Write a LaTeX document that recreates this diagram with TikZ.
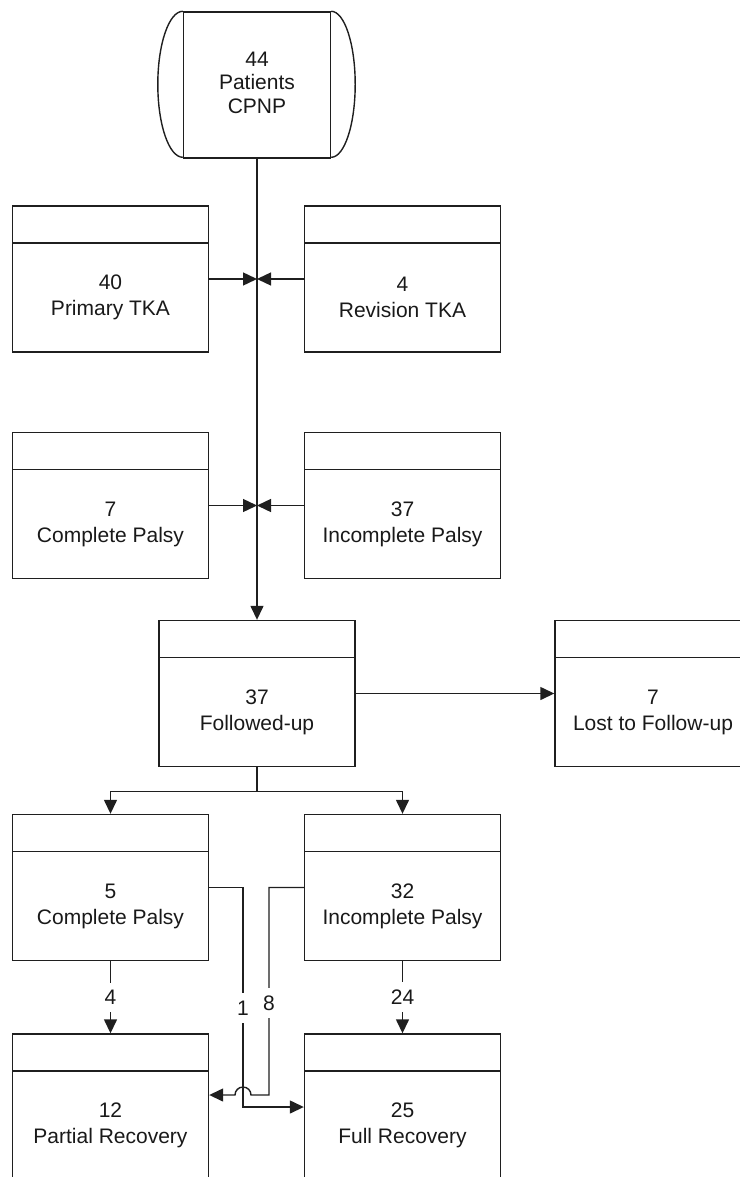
\documentclass[tikz,border=0pt]{standalone}
\usepackage{fontspec}
\setmainfont{Liberation Sans}
\usetikzlibrary{arrows.meta,calc}
\begin{document}
\begin{tikzpicture}[x=1pt,y=-1pt,
  line width=1.4pt, draw=black!88,
  fbox/.style={draw, rectangle, minimum width=196pt, minimum height=146pt, inner sep=0pt,
     path picture={\draw[line width=1.4pt] ($(path picture bounding box.north west)+(0,-37pt)$) -- ++(200pt,0);}},
  boxtext/.style={align=center, inner sep=0pt, text=black!90, font=\fontsize{21}{26}\selectfont},
  arr/.style={-{Triangle[length=14pt,width=13pt]}},
  lab/.style={fill=white, inner xsep=2pt, inner ysep=7.5pt, text=black!90, font=\fontsize{21}{26}\selectfont}
]
\useasboundingbox (0,0) rectangle (739,1177);

% top terminal shape
\node[draw, minimum width=147pt, minimum height=146pt, inner sep=0pt, align=center,
      text=black!90, font=\fontsize{21}{23.5}\selectfont] (top) at (257,85) {};
\node[align=center, inner sep=0pt, text=black!90, font=\fontsize{21}{23.5}\selectfont]
      (ttop) at ($(top)+(0,2.5pt)$) {44\\Patients\\CPNP};
\draw (top.north west) arc[start angle=90, end angle=270, x radius=25pt, y radius=73pt];
\draw (top.north east) arc[start angle=90, end angle=-90, x radius=24pt, y radius=73pt];

% boxes
\node[fbox] (ptka) at (110.5,279) {};
\node[fbox] (rtka) at (402.5,279) {};
\node[fbox] (cp7)  at (110.5,505.5) {};
\node[fbox] (ip37) at (402.5,505.5) {};
\node[fbox] (fu)   at (257,693.5) {};
\node[fbox] (lost) at (653,693.5) {};
\node[fbox] (cp5)  at (110.5,887.5) {};
\node[fbox] (ip32) at (402.5,887.5) {};
\node[fbox] (pr)   at (110.5,1107) {};
\node[fbox] (fr)   at (402.5,1107) {};

% texts
\node[boxtext] (tptka) at ($(ptka)+(0,-18.5pt)$) {40\\Primary TKA};
\node[boxtext] (trtka) at ($(rtka)+(0,-18.5pt)$) {4\\Revision TKA};
\node[boxtext] (tcp7)  at ($(cp7)+(0,-18.5pt)$) {7\\Complete Palsy};
\node[boxtext] (tip37) at ($(ip37)+(0,-18.5pt)$) {37\\Incomplete Palsy};
\node[boxtext] (tfu)   at ($(fu)+(0,-18.5pt)$) {37\\Followed-up};
\node[boxtext] (tlost) at ($(lost)+(0,-18.5pt)$) {7\\Lost to Follow-up};
\node[boxtext] (tcp5)  at ($(cp5)+(0,-18.5pt)$) {5\\Complete Palsy};
\node[boxtext] (tip32) at ($(ip32)+(0,-18.5pt)$) {32\\Incomplete Palsy};
\node[boxtext] (tpr)   at ($(pr)+(0,-18.5pt)$) {12\\Partial Recovery};
\node[boxtext] (tfr)   at ($(fr)+(0,-18.5pt)$) {25\\Full Recovery};

% main trunk
\draw[arr] (top.south) -- (fu.north);
\draw[arr] (ptka.east) -- (ptka.east -| fu.north);
\draw[arr] (rtka.west) -- (rtka.west -| fu.north);
\draw[arr] (cp7.east) -- (cp7.east -| fu.north);
\draw[arr] (ip37.west) -- (ip37.west -| fu.north);
\draw[arr] (fu.east) -- (lost.west);

% branch
\draw (fu.south) -- ++(0,24) coordinate (br);
\draw[arr] (br) -| (cp5.north);
\draw[arr] (br) -| (ip32.north);

% straight outcomes
\draw[arr] (cp5.south) -- node[lab] (l4) {4} (pr.north);
\draw[arr] (ip32.south) -- node[lab] (l24) {24} (fr.north);

% crossing outcomes
\coordinate (x1) at (243,0);
\coordinate (x8) at (269,0);
\draw[arr] (cp5.east) -- (cp5.east -| x1) |- (fr.west);
\draw[arr] (ip32.west) -- (ip32.west -| x8) -- ($(pr.east -| x8)+(0,12pt)$)
   -- ($(pr.east -| x1)+(8pt,12pt)$) arc[start angle=0, end angle=180, radius=8pt]
   -- ($(pr.east)+(0,12pt)$);
\node[lab] (l1) at (243,1008) {1};
\node[lab] (l8) at (269,1003) {8};
\end{tikzpicture}
\end{document}
